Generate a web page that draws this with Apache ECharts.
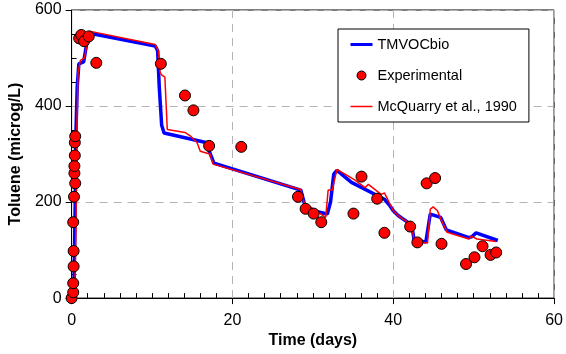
<!DOCTYPE html>
<html>
<head>
<meta charset="utf-8">
<script src="https://cdn.jsdelivr.net/npm/echarts@6/dist/echarts.min.js"></script>
<style>
  html, body { margin: 0; padding: 0; background: #fff; }
  #plot { width: 566px; height: 354px; }
</style>
</head>
<body>
<div id="plot"></div>
<script>
// 实验数据（天，microg/L）
var expDays = [0, 0.2, 0.2, 0.25, 0.25, 0.2, 0.3, 0.45, 0.35, 0.35, 0.4, 0.4, 0.45,
  0.94, 1.2, 1.55, 2.13, 3.07, 11.1,
  14.1, 15.15, 17.1, 21.1,
  28.15, 29.1, 30.1, 31.05, 35.05, 36.05, 38.0, 38.9,
  42.1, 43.0, 44.15, 45.2, 46.0, 49.05, 50.1, 51.1, 52.1, 52.8];
var expVals = [0, 12, 31, 66, 98, 158, 211, 239, 260, 275, 297, 324, 337,
  541, 548, 535, 545, 490, 488,
  422, 391, 317, 315,
  211, 186, 176, 158, 176, 253, 207, 136,
  149, 116, 239, 250, 113, 71, 85, 108, 90, 95];

// TMVOCbio 模拟
var tmvocDays = [0, 0.3, 0.45, 0.55, 0.7, 0.9, 1.5, 2.1, 10.4, 10.7, 10.9, 11.2, 11.5,
  16.7, 17.7, 28.5, 28.9, 29.2, 31.8, 32.2, 32.6, 33.0, 34.8, 38.9, 39.6, 40.0, 40.6,
  42.3, 42.6, 44.05, 44.6, 45.9, 46.6, 49.4, 49.8, 50.3, 53.0];
var tmvocVals = [0, 30, 200, 350, 440, 488, 492, 552, 525, 515, 440, 360, 344,
  324, 281, 225, 200, 185, 175, 200, 258, 266, 241, 206, 192, 182, 172,
  152, 120, 117, 175, 168, 142, 126, 128, 136, 120];

// McQuarry et al., 1990
var mcqDays = [0, 0.4, 0.55, 0.65, 0.8, 1.1, 1.6, 2.2, 10.4, 10.8, 11.0, 11.2, 11.6, 11.9,
  14.1, 14.75, 15.6, 16.0, 17.2, 17.6, 28.5, 28.9, 31.6, 31.9, 32.4, 33.0, 35.2, 36.5,
  36.9, 38.5, 38.9, 40.0, 40.6, 42.3, 42.6, 44.26, 44.6, 44.96, 45.5, 45.9, 46.7, 49.4,
  49.7, 50.4, 52.8];
var mcqVals = [0, 10, 150, 350, 470, 495, 500, 556, 528, 515, 470, 465, 460, 351,
  345, 338, 324, 306, 300, 279, 226, 199, 168, 225, 225, 268, 246, 230,
  237, 216, 219, 182, 172, 152, 118, 115, 185, 190, 182, 165, 137, 123,
  129, 123, 118];

function pairs(xs, ys) {
  return xs.map(function (x, i) { return [x, ys[i]]; });
}

var myChart = echarts.init(document.getElementById('plot'));

var font = 'Liberation Sans, Arial, sans-serif';

// 图例图标：外框 22x14，只画中间的细线 / 小圆
var thickLine = 'path://M0,0 M0,5.5 L22,5.5 L22,8.5 L0,8.5 Z M22,14';
var thinLine = 'path://M0,0 M0,6.25 L22,6.25 L22,7.75 L0,7.75 Z M22,14';
var dot = 'path://M0,0 M6.5,7 A4.5,4.5 0 1,1 15.5,7 A4.5,4.5 0 1,1 6.5,7 Z M22,14';

var option = {
  animation: false,
  textStyle: { fontFamily: font },
  grid: {
    left: 70, right: 8, top: 10, bottom: 55,
    show: true, borderColor: '#000', borderWidth: 1
  },
  legend: {
    orient: 'vertical',
    left: 338, top: 29,
    padding: [8, 12, 8, 12],
    itemGap: 16,
    itemWidth: 22,
    itemHeight: 14,
    backgroundColor: '#fff',
    borderColor: '#000',
    borderWidth: 1,
    borderRadius: 0,
    textStyle: { fontFamily: font, fontSize: 14.5, color: '#000' },
    data: [
      { name: 'TMVOCbio', icon: thickLine, itemStyle: { color: '#0000ff', borderWidth: 0 } },
      { name: 'Experimental', icon: dot, itemStyle: { color: '#ff0000', borderColor: '#000', borderWidth: 1 } },
      { name: 'McQuarry et al., 1990', icon: thinLine, itemStyle: { color: '#ff0000', borderWidth: 0 } }
    ]
  },
  xAxis: {
    type: 'value',
    min: 0, max: 60, interval: 20,
    name: 'Time (days)',
    nameLocation: 'middle',
    nameGap: 31,
    nameTextStyle: { fontFamily: font, fontSize: 16, fontWeight: 'bold', color: '#000' },
    axisLine: { lineStyle: { color: '#000', width: 1 } },
    axisTick: { show: true, length: 6, lineStyle: { color: '#000' } },
    minorTick: { show: true, splitNumber: 10, length: -5, lineStyle: { color: '#000' } },
    axisLabel: { fontFamily: font, fontSize: 16, color: '#000', margin: 14 },
    splitLine: { show: true, lineStyle: { color: '#b4b4b4', type: [8, 6], width: 1 } }
  },
  yAxis: {
    type: 'value',
    min: 0, max: 600, interval: 200,
    name: 'Toluene (microg/L)',
    nameLocation: 'middle',
    nameGap: 39,
    nameTextStyle: { fontFamily: font, fontSize: 16, fontWeight: 'bold', color: '#000' },
    axisLine: { show: true, lineStyle: { color: '#000', width: 1 } },
    axisTick: { show: true, length: 6, lineStyle: { color: '#000' } },
    minorTick: { show: true, splitNumber: 4, length: -5, lineStyle: { color: '#000' } },
    axisLabel: { fontFamily: font, fontSize: 16, color: '#000', margin: 10 },
    splitLine: { show: true, lineStyle: { color: '#b4b4b4', type: [8, 6], width: 1 } }
  },
  series: [
    {
      name: 'TMVOCbio',
      type: 'line',
      data: pairs(tmvocDays, tmvocVals),
      symbol: 'none',
      color: '#0000ff',
      lineStyle: { color: '#0000ff', width: 3.5 },
      z: 2
    },
    {
      name: 'McQuarry et al., 1990',
      type: 'line',
      data: pairs(mcqDays, mcqVals),
      symbol: 'none',
      color: '#ff0000',
      lineStyle: { color: '#ff0000', width: 1.5 },
      z: 3
    },
    {
      name: 'Experimental',
      type: 'scatter',
      data: pairs(expDays, expVals),
      symbol: 'circle',
      symbolSize: 11,
      itemStyle: { color: '#ff0000', borderColor: '#000', borderWidth: 1, opacity: 1 },
      z: 4
    }
  ]
};

myChart.setOption(option);
</script>
</body>
</html>
